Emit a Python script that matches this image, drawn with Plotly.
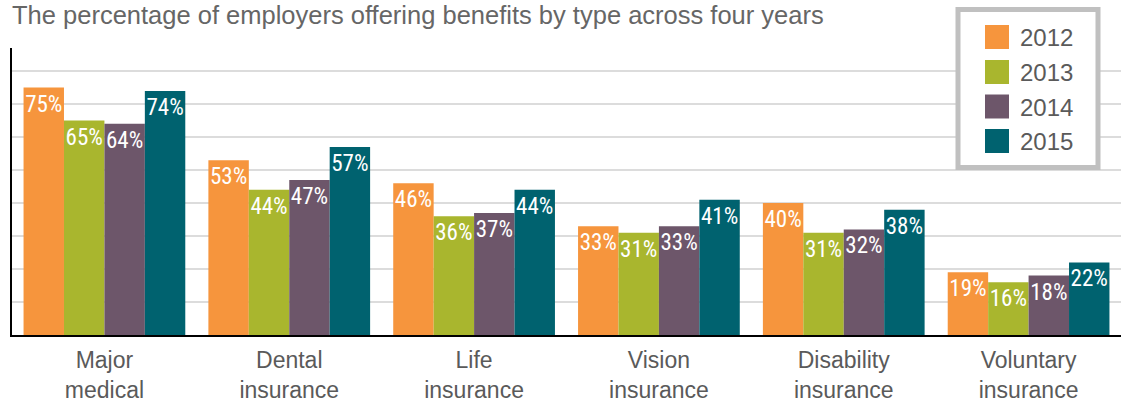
import plotly.graph_objects as go

categories = ["Major<br>medical", "Dental<br>insurance", "Life<br>insurance",
              "Vision<br>insurance", "Disability<br>insurance", "Voluntary<br>insurance"]
years = ["2012", "2013", "2014", "2015"]
v2012 = [75, 53, 46, 33, 40, 19]
v2013 = [65, 44, 36, 31, 31, 16]
v2014 = [64, 47, 37, 33, 32, 18]
v2015 = [74, 57, 44, 41, 38, 22]
series = [v2012, v2013, v2014, v2015]
colors = ["#F6953D", "#A9B62E", "#6D566A", "#00626F"]

W, H = 1121, 402
ML, MR, MT, MB = 12, 0, 48, 402 - 335
PW = W - ML - MR
PH = H - MT - MB

def px_x(px):
    return (px - ML) / PW

def px_y(py):
    return (H - MB - py) / PH

fig = go.Figure()
for name, vals, col in zip(years, series, colors):
    fig.add_trace(go.Bar(
        x=categories, y=vals, name=name,
        marker=dict(color=col, line=dict(width=0)),
        text=[f"{v}%" for v in vals],
        textposition="inside", insidetextanchor="end", textangle=0,
        constraintext="none",
        textfont=dict(family="Roboto Condensed, Liberation Sans Narrow, DejaVu Sans Condensed, sans-serif",
                      size=23, color="white"),
        showlegend=False,
    ))

gray = "#5a5a5a"
shapes = []
annotations = []
# legend box
shapes.append(dict(type="rect", xref="paper", yref="paper", layer="above",
                   x0=px_x(958), x1=px_x(1098), y0=px_y(167.5), y1=px_y(9.5),
                   line=dict(color="#c0c0c0", width=5), fillcolor="white"))
row_tops = [25, 60, 94.5, 129]
for name, col, top in zip(years, colors, row_tops):
    shapes.append(dict(type="rect", xref="paper", yref="paper", layer="above",
                       x0=px_x(985), x1=px_x(1009), y0=px_y(top + 24), y1=px_y(top),
                       line=dict(width=0), fillcolor=col))
    annotations.append(dict(text=name, xref="paper", yref="paper",
                            x=px_x(1018), y=px_y(top + 12.5), xanchor="left", yanchor="middle",
                            showarrow=False,
                            font=dict(family="Liberation Sans, Arial, sans-serif", size=24, color=gray)))

annotations.append(dict(text="The percentage of employers offering benefits by type across four years",
                        xref="paper", yref="paper", x=px_x(10), y=px_y(15),
                        xanchor="left", yanchor="middle", showarrow=False,
                        font=dict(family="Liberation Sans, Arial, sans-serif", size=25.5, color="#666666")))

fig.update_layout(
    width=W, height=H,
    margin=dict(l=ML, r=MR, t=MT, b=MB, autoexpand=False),
    paper_bgcolor="white", plot_bgcolor="white",
    barmode="group", bargap=0.125, bargroupgap=0,
    shapes=shapes, annotations=annotations,
    xaxis=dict(showline=True, linecolor="black", linewidth=2, automargin=False,
               tickfont=dict(family="Liberation Sans, Arial, sans-serif", size=23, color=gray),
               ticks="", ticklabelstandoff=3, showgrid=False),
    yaxis=dict(range=[0, 87], dtick=10, showticklabels=False, showline=True,
               linecolor="black", linewidth=2, showgrid=True, automargin=False,
               gridcolor="#dcdcdc", gridwidth=1.5, zeroline=False, ticks=""),
)

fig.write_html("out.html",
               config={"displayModeBar": False},
               post_script="document.body.style.margin='0';document.body.style.overflow='hidden';")
